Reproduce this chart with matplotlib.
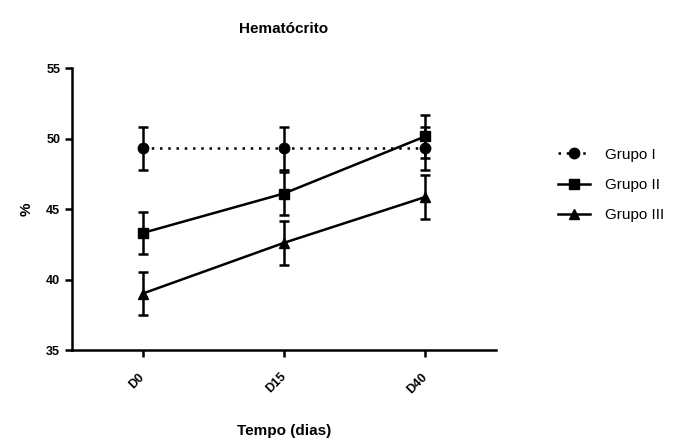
import matplotlib.pyplot as plt
import numpy as np

plt.rcParams['font.family'] = ['Liberation Sans', 'DejaVu Sans']

# dados
dias = ['D0', 'D15', 'D40']
grupo1 = [49.3, 49.3, 49.3]
grupo1_err = [1.55, 1.55, 1.55]
grupo2 = [43.3, 46.1, 50.15]
grupo2_err = [1.5, 1.55, 1.55]
grupo3 = [39.0, 42.6, 45.85]
grupo3_err = [1.55, 1.55, 1.55]

fig = plt.figure(figsize=(6.96, 4.41), dpi=100)
ax = fig.add_axes([0.1034, 0.2063, 0.609, 0.6395])

x = np.arange(len(dias))
estilo = dict(color='black', capsize=3.8, capthick=1.8, elinewidth=1.8, linewidth=1.8, markersize=7.5)
ax.errorbar(x, grupo1, yerr=grupo1_err, fmt='o', linestyle=(0, (1, 2.3)), label='Grupo I', **estilo)
ax.errorbar(x, grupo2, yerr=grupo2_err, fmt='s', linestyle='-', label='Grupo II', **estilo)
ax.errorbar(x, grupo3, yerr=grupo3_err, fmt='^', linestyle='-', label='Grupo III', **estilo)

ax.set_xlim(-0.5, 2.5)
ax.set_ylim(35, 55)
ax.set_yticks([35, 40, 45, 50, 55])
ax.set_xticks(x)
ax.set_xticklabels(dias, rotation=45, ha='right', va='center', rotation_mode='anchor')

for s in ['top', 'right']:
    ax.spines[s].set_visible(False)
for s in ['left', 'bottom']:
    ax.spines[s].set_linewidth(1.8)
ax.tick_params(width=1.8, length=5, labelsize=9)
ax.tick_params(axis='x', pad=13)
for lbl in ax.get_xticklabels() + ax.get_yticklabels():
    lbl.set_fontweight('bold')

ax.set_title('Hematócrito', fontsize=11, fontweight='bold', pad=25)
ax.set_xlabel('Tempo (dias)', fontsize=11, fontweight='bold')
ax.set_ylabel('%', fontsize=11, fontweight='bold')
ax.xaxis.set_label_coords(0.5, -0.262)
ax.yaxis.set_label_coords(-0.09, 0.5)

handles, labels = ax.get_legend_handles_labels()
handles = [h[0] for h in handles]
fig.legend(handles, labels, loc='upper left', bbox_to_anchor=(0.782, 0.696),
           frameon=False, fontsize=11, handlelength=2.1, handletextpad=1.0,
           labelspacing=1.06)

fig.savefig('out.png', dpi=100)
